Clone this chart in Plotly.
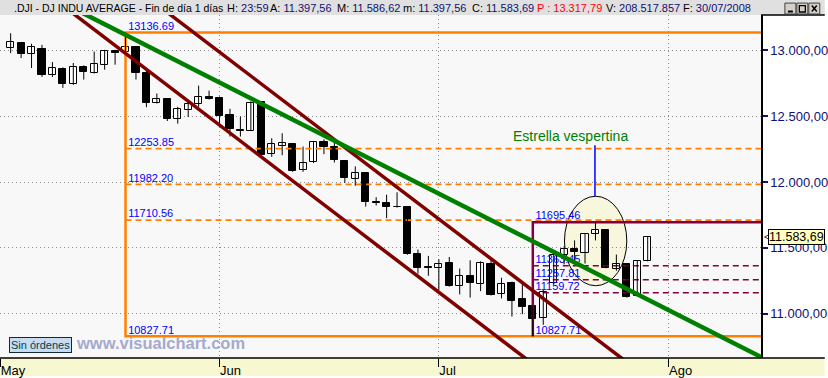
import plotly.graph_objects as go

# ---------------- data ----------------
dates = (
    ["2008-05-%02d" % d for d in [2, 5, 6, 7, 8, 9, 12, 13, 14, 15, 16, 19, 20, 21, 22, 23, 27, 28, 29, 30]]
    + ["2008-06-%02d" % d for d in [2, 3, 4, 5, 6, 9, 10, 11, 12, 13, 16, 17, 18, 19, 20, 23, 24, 25, 26, 27, 30]]
    + ["2008-07-%02d" % d for d in [1, 2, 3, 7, 8, 9, 10, 11, 14, 15, 16, 17, 18, 21, 22, 23, 24, 25, 28, 29, 30]]
)
opens = [13018, 13056, 12975, 13011, 12814, 12859, 12746, 12872, 12829, 12890,
         12995, 12985, 13030, 12829, 12603, 12628, 12482, 12544, 12597, 12648,
         12640, 12506, 12395, 12388, 12607, 12210, 12275, 12288, 12091, 12149,
         12308, 12270, 12157, 12023, 12066, 11847, 11840, 11812, 11809, 11456,
         11350, 11348, 11388, 11212, 11288, 11224, 11381, 11147, 11230, 11109,
         11058, 10965, 11235, 11449, 11494, 11464, 11608, 11633, 11343, 11374,
         11137, 11397.56]
highs = [13131, 13063, 13051, 13043, 12912, 12872, 12905, 12887, 12992, 13005,
         13005, 13136.69, 13035, 12867, 12673, 12635, 12572, 12628, 12733, 12695,
         12650, 12557, 12497, 12612, 12610, 12333, 12371, 12290, 12270, 12312,
         12325, 12300, 12160, 12119, 12068, 11885, 11904, 11922, 11812, 11487,
         11439, 11413, 11431, 11343, 11406, 11398, 11419, 11273, 11243, 11243,
         11062, 11180, 11456, 11512, 11557, 11610, 11695.46, 11636, 11449, 11376,
         11403, 11586.62]
lows = [12980, 12943, 12867, 12799, 12799, 12716, 12739, 12779, 12825, 12854,
        12892, 12975, 12779, 12569, 12597, 12464, 12444, 12494, 12572, 12628,
        12431, 12346, 12346, 12388, 12194, 12192, 12204, 12078, 12078, 12145,
        12212, 12149, 11993, 11972, 11814, 11822, 11726, 11806, 11448, 11304,
        11288, 11179, 11205, 11146, 11122, 11171, 11138, 11116, 10978, 10996,
        10827.71, 10915, 11222, 11374, 11381, 11381, 11557, 11345, 11326, 11122,
        11130, 11397.56]
closes = [13063, 12973, 13023, 12814, 12864, 12743, 12875, 12837, 12897, 12995,
          12983, 13030, 12829, 12603, 12628, 12482, 12552, 12590, 12645, 12635,
          12501, 12401, 12391, 12603, 12204, 12288, 12295, 12081, 12142, 12308,
          12270, 12164, 12028, 12066, 11847, 11843, 11807, 11808, 11453, 11348,
          11346, 11375, 11212, 11285, 11235, 11386, 11145, 11224, 11099, 11054,
          10960, 11167, 11449, 11494, 11469, 11608, 11638, 11350, 11374, 11129,
          11401, 11583.69]

month_tick_idx = [-1, 20, 41, 63]
month_tick_labels = ["May", "Jun", "Jul", "Ago"]

price_ticks = [11000, 11500, 12000, 12500, 13000]
price_tick_labels = ["11.000,00", "11.500,00", "12.000,00", "12.500,00", "13.000,00"]

# Fibonacci set 1 (orange)
fib1_anchor_idx = 11
fib1_high = 13136.69
fib1_low = 10827.71
fib1_levels = [12253.85, 11982.20, 11710.56]
# Fibonacci set 2 (maroon)
fib2_anchor_idx = 50
fib2_high = 11695.46
fib2_low = 10827.71
fib2_levels = [11363.45, 11257.81, 11159.72]

# trend lines (two anchor points each: bar index, price)
channel_lower_idx = [16.79, 46.35]
channel_lower_price = [12627.5, 10839.0]
channel_upper_idx = [23.46, 55.57]
channel_upper_price = [12778.6, 10839.0]
trend_idx = [18.05, 65.74]
trend_price = [12835.3, 10916.9]

# evening star ellipse and note
star_idx = [53.03, 59.0]
star_price = [11212.3, 11892.3]
star_note = "Estrella vespertina"
star_note_pos = (53.6, 12350)
star_pointer_idx = 55.95
star_pointer_top = 12280

last_close = 11583.69
last_close_label = "11.583,69"

header_parts = [
    (13, 10.5, [(".DJI - DJ INDU AVERAGE - Fin de día 1 días", "black")]),
    (227, 11, [("H: ", "black"), ("23:59", "#101070")]),
    (270, 11, [("A: ", "black"), ("11.397,56", "#101070")]),
    (337, 11, [("M: ", "black"), ("11.586,62", "#101070")]),
    (404, 11, [("m: ", "black"), ("11.397,56", "#101070")]),
    (473, 11, [("C: ", "black"), ("11.583,69", "#101070")]),
    (538, 11, [("P : 13.317,79", "#ff0000")]),
    (607, 11, [("V: ", "black"), ("208.517.857", "#101070")]),
    (685, 11, [("F: ", "black"), ("30/07/2008", "#101070")]),
]

# ---------------- geometry helpers ----------------
W, H = 828, 378
ML, MR, MT, MB = 0, 64, 15, 18
PW, PH = W - ML - MR, H - MT - MB
XR = [-1.02, 71.85]
YR = [10663, 13269.7]


def px(x):
    return (x - ML) / PW


def py(y):
    return (H - MB - y) / PH


def extend(xs, ys, lo=-5, hi=80):
    s = (ys[1] - ys[0]) / (xs[1] - xs[0])
    return [lo, hi], [ys[0] + (lo - xs[0]) * s, ys[0] + (hi - xs[0]) * s]


idx = list(range(len(dates)))
ORANGE = "rgb(255,128,0)"
MAROON = "rgb(128,0,64)"
DARKRED = "rgb(128,0,0)"
GREEN = "rgb(0,128,0)"
BLUE = "rgb(0,0,255)"
FONT = "Liberation Sans, Arial, sans-serif"

fig = go.Figure()
xend = XR[1]

# fib set 1
fig.add_trace(go.Scatter(x=[xend, fib1_anchor_idx, fib1_anchor_idx, xend],
                         y=[fib1_high, fib1_high, fib1_low, fib1_low],
                         mode="lines", line=dict(color=ORANGE, width=2.5), hoverinfo="skip"))
for lv in fib1_levels:
    fig.add_trace(go.Scatter(x=[fib1_anchor_idx, xend], y=[lv, lv], mode="lines",
                             line=dict(color=ORANGE, width=1.6, dash="6px,4px"), hoverinfo="skip"))
# fib set 2
fig.add_trace(go.Scatter(x=[fib2_anchor_idx, fib2_anchor_idx, xend],
                         y=[fib2_low, fib2_high, fib2_high],
                         mode="lines", line=dict(color=MAROON, width=2.5), hoverinfo="skip"))
for lv in fib2_levels:
    fig.add_trace(go.Scatter(x=[fib2_anchor_idx, xend], y=[lv, lv], mode="lines",
                             line=dict(color=MAROON, width=1.5, dash="6px,4px"), hoverinfo="skip"))

# candles: wicks + bodies
wx, wy = [], []
for i, h, l in zip(idx, highs, lows):
    wx += [i, i, None]
    wy += [l, h, None]
fig.add_trace(go.Scatter(x=wx, y=wy, mode="lines", line=dict(color="black", width=1),
                         hoverinfo="skip"))
body_base = [min(o, c) for o, c in zip(opens, closes)]
body_h = [max(abs(c - o), 5) for o, c in zip(opens, closes)]
body_col = ["white" if c >= o else "black" for o, c in zip(opens, closes)]
fig.add_trace(go.Bar(x=idx, y=body_h, base=body_base, width=0.68,
                     marker=dict(color=body_col, line=dict(color="black", width=1)),
                     hoverinfo="skip"))

# level labels
lab_x = [fib1_anchor_idx] * 5 + [fib2_anchor_idx] * 5
lab_y = [fib1_high] + fib1_levels + [fib1_low] + [fib2_high] + fib2_levels + [fib2_low]
lab_t = ["%.2f" % v for v in lab_y]
fig.add_trace(go.Scatter(x=[v + 0.25 for v in lab_x], y=lab_y, text=lab_t, mode="text",
                         textposition="top right",
                         textfont=dict(color=BLUE, size=11, family=FONT), hoverinfo="skip"))

# channel and trend lines
for xs, ys, col, wd in [(channel_lower_idx, channel_lower_price, DARKRED, 3.5),
                        (channel_upper_idx, channel_upper_price, DARKRED, 3.5),
                        (trend_idx, trend_price, GREEN, 4.5)]:
    ex, ey = extend(xs, ys)
    fig.add_trace(go.Scatter(x=ex, y=ey, mode="lines", line=dict(color=col, width=wd),
                             hoverinfo="skip"))

shapes = []
# ellipse
shapes.append(dict(type="circle", xref="x", yref="y", x0=star_idx[0], x1=star_idx[1],
                   y0=star_price[0], y1=star_price[1], fillcolor="rgb(248,246,220)",
                   line=dict(color="black", width=1), layer="below"))
# pointer line
shapes.append(dict(type="line", xref="x", yref="y", x0=star_pointer_idx, x1=star_pointer_idx,
                   y0=star_pointer_top, y1=star_price[1], line=dict(color=BLUE, width=1.5)))
# header band
shapes.append(dict(type="rect", xref="paper", yref="paper", x0=px(0), x1=px(W), y0=py(MT), y1=py(0),
                   fillcolor="rgb(224,224,224)", line=dict(width=0), layer="below"))
# bottom band
shapes.append(dict(type="rect", xref="paper", yref="paper", x0=px(0), x1=px(W), y0=py(H), y1=py(H - MB),
                   fillcolor="rgb(248,248,208)", line=dict(width=0), layer="below"))
shapes.append(dict(type="line", xref="paper", yref="paper", x0=px(0), x1=px(W), y0=py(H - MB), y1=py(H - MB),
                   line=dict(color="black", width=1.5)))
# right panel top border
shapes.append(dict(type="line", xref="paper", yref="paper", x0=px(PW), x1=px(W), y0=py(MT), y1=py(MT),
                   line=dict(color="black", width=1.5)))
# window buttons
for bx in [788, 800, 812]:
    shapes.append(dict(type="rect", xref="paper", yref="paper", x0=px(bx), x1=px(bx + 11),
                       y0=py(14), y1=py(3), fillcolor="rgb(212,208,200)",
                       line=dict(color="rgb(64,64,64)", width=1)))
shapes.append(dict(type="line", xref="paper", yref="paper", x0=px(791), x1=px(796), y0=py(11.5), y1=py(11.5),
                   line=dict(color="black", width=2)))
shapes.append(dict(type="rect", xref="paper", yref="paper", x0=px(802.5), x1=px(808.5), y0=py(12), y1=py(5.5),
                   line=dict(color="black", width=1.3)))
shapes.append(dict(type="line", xref="paper", yref="paper", x0=px(815), x1=px(820), y0=py(5.5), y1=py(11.5),
                   line=dict(color="black", width=1.5)))
shapes.append(dict(type="line", xref="paper", yref="paper", x0=px(815), x1=px(820), y0=py(11.5), y1=py(5.5),
                   line=dict(color="black", width=1.5)))

annotations = []
for x0, fs, parts in header_parts:
    txt = "".join("<span style='color:%s'>%s</span>" % (c, t) for t, c in parts)
    annotations.append(dict(xref="paper", yref="paper", x=px(x0), y=py(7.5), xanchor="left", yanchor="middle",
                            text=txt, showarrow=False, font=dict(size=fs, family=FONT, color="black"),
                            borderpad=0))
annotations.append(dict(xref="x", yref="y", x=star_note_pos[0], y=star_note_pos[1], text=star_note,
                        showarrow=False, font=dict(size=14, family=FONT, color=GREEN)))
annotations.append(dict(xref="paper", yref="y", x=px(771.5), y=last_close, xanchor="left", yanchor="middle",
                        text=last_close_label, showarrow=False, bgcolor="rgb(255,255,192)",
                        bordercolor="black", borderwidth=1, borderpad=0,
                        font=dict(size=12.5, family=FONT, color="black")))
annotations.append(dict(xref="paper", yref="y", x=px(765), y=last_close, xanchor="left", yanchor="middle",
                        text="<", showarrow=False, font=dict(size=9, family=FONT, color="black")))
annotations.append(dict(xref="paper", yref="paper", x=px(9), y=py(346.7), xanchor="left", yanchor="middle",
                        text="Sin órdenes", showarrow=False, bgcolor="rgb(200,220,240)",
                        bordercolor="rgb(20,40,60)", borderwidth=1, borderpad=1,
                        font=dict(size=11, family=FONT, color="rgb(0,64,80)")))
annotations.append(dict(xref="paper", yref="paper", x=px(74), y=py(344.5), xanchor="left", yanchor="middle",
                        text="<b>www.visualchart.com</b>", showarrow=False,
                        font=dict(size=16.5, family=FONT, color="rgb(165,170,205)")))

fig.update_layout(
    width=W, height=H, autosize=False,
    margin=dict(l=ML, r=MR, t=MT, b=MB, pad=0),
    paper_bgcolor="white", plot_bgcolor="rgb(248,248,248)",
    showlegend=False, hovermode=False, bargap=0,
    shapes=shapes, annotations=annotations,
    xaxis=dict(range=XR, tickmode="array", tickvals=month_tick_idx, ticktext=month_tick_labels,
               ticks="outside", ticklen=8, tickcolor="black", tickwidth=1,
               ticklabelposition="outside right",
               tickfont=dict(size=13, family=FONT, color="black"),
               showgrid=True, gridcolor="rgb(140,140,140)", griddash="1px,3px", gridwidth=1,
               zeroline=False, showline=False, fixedrange=True),
    yaxis=dict(range=YR, side="right", tickmode="array", tickvals=price_ticks, ticktext=price_tick_labels,
               ticks="outside", ticklen=5, tickcolor="rgb(16,16,112)", tickwidth=1.5,
               tickfont=dict(size=13, family=FONT, color="rgb(16,16,112)"),
               showgrid=True, gridcolor="rgb(140,140,140)", griddash="1px,3px", gridwidth=1,
               zeroline=False, showline=True, linecolor="black", linewidth=1.5, fixedrange=True),
)

fig.write_html("out.html")
